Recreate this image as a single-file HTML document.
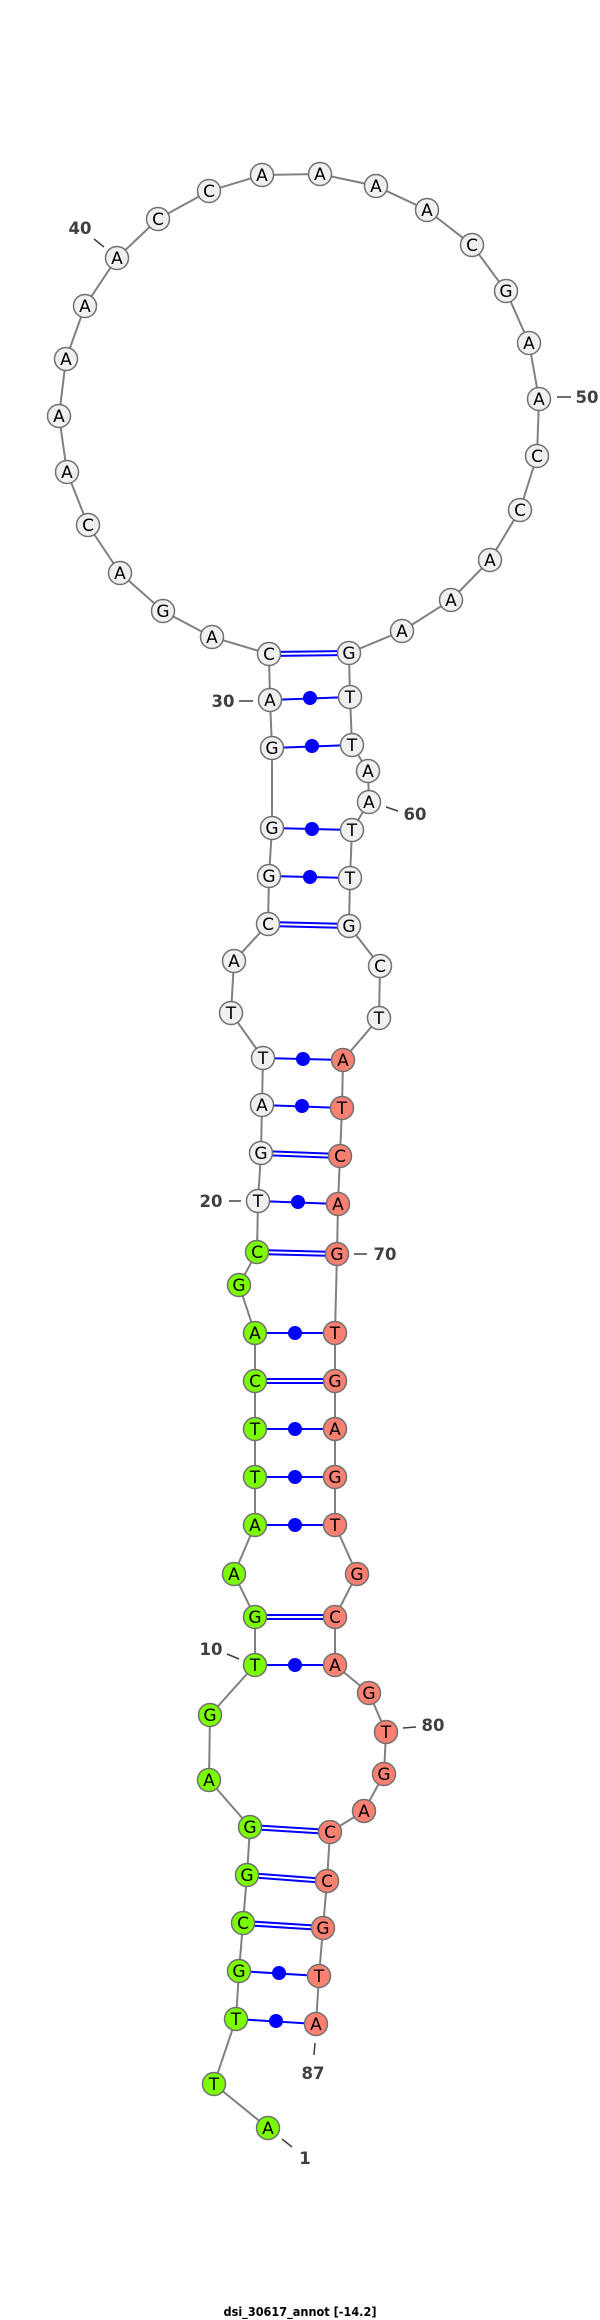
<!DOCTYPE html>
<html><head><meta charset="utf-8"><style>html,body{margin:0;padding:0;background:#fff}svg{display:block}</style></head>
<body>
<svg width="600" height="2320" viewBox="0 0 600 2320" xmlns="http://www.w3.org/2000/svg">
<polyline fill="none" stroke="#808080" stroke-width="2" points="268,2128 214,2084 236,2019 239,1971 243,1923 247,1875 250,1827 209,1780 210,1715 255,1665 255,1617 234,1574 255,1525 255,1477 255,1429 255,1381 255,1333 239,1285 257,1252 258,1201 261,1153 262,1105 263,1058 231,1013 234,961 268,924 269,876 272,828 272,748 270,700 269,654 212,637 163,611 120,573 88,525 67,472 59,416 66,359 85,306 117,258 158,219 209,191 262,175 320,174 376,186 427,210 472,245 506,291 529,343 539,399 537,456 520,510 490,560 451,600 402,631 349,653 350,697 352,745 368,771 369,802 352,830 350,878 349,926 380,966 379,1018 343,1060 342,1108 340,1156 338,1204 337,1254 335,1333 335,1381 335,1429 335,1477 335,1525 357,1574 335,1617 335,1665 369,1693 386,1732 384,1774 364,1811 330,1832 327,1881 323,1928 319,1976 316,2024"/>
<g stroke="#0000ff" stroke-width="2">
<line x1="269" y1="652" x2="349" y2="651"/><line x1="269" y1="656" x2="349" y2="655"/>
<line x1="268" y1="922" x2="349" y2="924"/><line x1="268" y1="926" x2="349" y2="928"/>
<line x1="261" y1="1151" x2="340" y2="1154"/><line x1="261" y1="1155" x2="340" y2="1158"/>
<line x1="257" y1="1250" x2="337" y2="1252"/><line x1="257" y1="1254" x2="337" y2="1256"/>
<line x1="255" y1="1379" x2="335" y2="1379"/><line x1="255" y1="1383" x2="335" y2="1383"/>
<line x1="255" y1="1615" x2="335" y2="1615"/><line x1="255" y1="1619" x2="335" y2="1619"/>
<line x1="250" y1="1825" x2="330" y2="1830"/><line x1="250" y1="1829" x2="330" y2="1834"/>
<line x1="247" y1="1873" x2="327" y2="1879"/><line x1="247" y1="1877" x2="327" y2="1883"/>
<line x1="243" y1="1921" x2="323" y2="1926"/><line x1="243" y1="1925" x2="323" y2="1930"/>
<line x1="270" y1="700" x2="350" y2="697"/>
<line x1="272" y1="748" x2="352" y2="745"/>
<line x1="272" y1="828" x2="352" y2="830"/>
<line x1="269" y1="876" x2="350" y2="878"/>
<line x1="263" y1="1058" x2="343" y2="1060"/>
<line x1="262" y1="1105" x2="342" y2="1108"/>
<line x1="258" y1="1201" x2="338" y2="1204"/>
<line x1="255" y1="1333" x2="335" y2="1333"/>
<line x1="255" y1="1429" x2="335" y2="1429"/>
<line x1="255" y1="1477" x2="335" y2="1477"/>
<line x1="255" y1="1525" x2="335" y2="1525"/>
<line x1="255" y1="1665" x2="335" y2="1665"/>
<line x1="239" y1="1971" x2="319" y2="1976"/>
<line x1="236" y1="2019" x2="316" y2="2024"/>
</g>
<g fill="#0000ff">
<circle cx="310" cy="698" r="7"/><circle cx="312" cy="746" r="7"/><circle cx="312" cy="829" r="7"/><circle cx="310" cy="877" r="7"/>
<circle cx="303" cy="1059" r="7"/><circle cx="302" cy="1106" r="7"/><circle cx="298" cy="1202" r="7"/><circle cx="295" cy="1333" r="7"/>
<circle cx="295" cy="1429" r="7"/><circle cx="295" cy="1477" r="7"/><circle cx="295" cy="1525" r="7"/><circle cx="295" cy="1665" r="7"/>
<circle cx="279" cy="1973" r="7"/><circle cx="276" cy="2021" r="7"/>
</g>
<g stroke="#707070" stroke-width="1.5">
<g fill="#7cfc00">
<circle cx="268" cy="2128" r="11.5"/><circle cx="214" cy="2084" r="11.5"/><circle cx="236" cy="2019" r="11.5"/><circle cx="239" cy="1971" r="11.5"/><circle cx="243" cy="1923" r="11.5"/><circle cx="247" cy="1875" r="11.5"/><circle cx="250" cy="1827" r="11.5"/><circle cx="209" cy="1780" r="11.5"/><circle cx="210" cy="1715" r="11.5"/><circle cx="255" cy="1665" r="11.5"/><circle cx="255" cy="1617" r="11.5"/><circle cx="234" cy="1574" r="11.5"/><circle cx="255" cy="1525" r="11.5"/><circle cx="255" cy="1477" r="11.5"/><circle cx="255" cy="1429" r="11.5"/><circle cx="255" cy="1381" r="11.5"/><circle cx="255" cy="1333" r="11.5"/><circle cx="239" cy="1285" r="11.5"/><circle cx="257" cy="1252" r="11.5"/>
</g>
<g fill="#f0f0f0">
<circle cx="258" cy="1201" r="11.5"/><circle cx="261" cy="1153" r="11.5"/><circle cx="262" cy="1105" r="11.5"/><circle cx="263" cy="1058" r="11.5"/><circle cx="231" cy="1013" r="11.5"/><circle cx="234" cy="961" r="11.5"/><circle cx="268" cy="924" r="11.5"/><circle cx="269" cy="876" r="11.5"/><circle cx="272" cy="828" r="11.5"/><circle cx="272" cy="748" r="11.5"/><circle cx="270" cy="700" r="11.5"/><circle cx="269" cy="654" r="11.5"/><circle cx="212" cy="637" r="11.5"/><circle cx="163" cy="611" r="11.5"/><circle cx="120" cy="573" r="11.5"/><circle cx="88" cy="525" r="11.5"/><circle cx="67" cy="472" r="11.5"/><circle cx="59" cy="416" r="11.5"/><circle cx="66" cy="359" r="11.5"/><circle cx="85" cy="306" r="11.5"/><circle cx="117" cy="258" r="11.5"/><circle cx="158" cy="219" r="11.5"/><circle cx="209" cy="191" r="11.5"/><circle cx="262" cy="175" r="11.5"/><circle cx="320" cy="174" r="11.5"/><circle cx="376" cy="186" r="11.5"/><circle cx="427" cy="210" r="11.5"/><circle cx="472" cy="245" r="11.5"/><circle cx="506" cy="291" r="11.5"/><circle cx="529" cy="343" r="11.5"/><circle cx="539" cy="399" r="11.5"/><circle cx="537" cy="456" r="11.5"/><circle cx="520" cy="510" r="11.5"/><circle cx="490" cy="560" r="11.5"/><circle cx="451" cy="600" r="11.5"/><circle cx="402" cy="631" r="11.5"/><circle cx="349" cy="653" r="11.5"/><circle cx="350" cy="697" r="11.5"/><circle cx="352" cy="745" r="11.5"/><circle cx="368" cy="771" r="11.5"/><circle cx="369" cy="802" r="11.5"/><circle cx="352" cy="830" r="11.5"/><circle cx="350" cy="878" r="11.5"/><circle cx="349" cy="926" r="11.5"/><circle cx="380" cy="966" r="11.5"/><circle cx="379" cy="1018" r="11.5"/>
</g>
<g fill="#fa8072">
<circle cx="343" cy="1060" r="11.5"/><circle cx="342" cy="1108" r="11.5"/><circle cx="340" cy="1156" r="11.5"/><circle cx="338" cy="1204" r="11.5"/><circle cx="337" cy="1254" r="11.5"/><circle cx="335" cy="1333" r="11.5"/><circle cx="335" cy="1381" r="11.5"/><circle cx="335" cy="1429" r="11.5"/><circle cx="335" cy="1477" r="11.5"/><circle cx="335" cy="1525" r="11.5"/><circle cx="357" cy="1574" r="11.5"/><circle cx="335" cy="1617" r="11.5"/><circle cx="335" cy="1665" r="11.5"/><circle cx="369" cy="1693" r="11.5"/><circle cx="386" cy="1732" r="11.5"/><circle cx="384" cy="1774" r="11.5"/><circle cx="364" cy="1811" r="11.5"/><circle cx="330" cy="1832" r="11.5"/><circle cx="327" cy="1881" r="11.5"/><circle cx="323" cy="1928" r="11.5"/><circle cx="319" cy="1976" r="11.5"/><circle cx="316" cy="2024" r="11.5"/>
</g>
</g>
<g font-family="DejaVu Sans, sans-serif" font-size="17" text-anchor="middle" fill="#000">
<text x="268" y="2134">A</text><text x="214" y="2090">T</text><text x="236" y="2025">T</text><text x="239" y="1977">G</text><text x="243" y="1929">C</text><text x="247" y="1881">G</text><text x="250" y="1833">G</text><text x="209" y="1786">A</text><text x="210" y="1721">G</text><text x="255" y="1671">T</text><text x="255" y="1623">G</text><text x="234" y="1580">A</text><text x="255" y="1531">A</text><text x="255" y="1483">T</text><text x="255" y="1435">T</text><text x="255" y="1387">C</text><text x="255" y="1339">A</text><text x="239" y="1291">G</text><text x="257" y="1258">C</text>
<text x="258" y="1207">T</text><text x="261" y="1159">G</text><text x="262" y="1111">A</text><text x="263" y="1064">T</text><text x="231" y="1019">T</text><text x="234" y="967">A</text><text x="268" y="930">C</text><text x="269" y="882">G</text><text x="272" y="834">G</text><text x="272" y="754">G</text><text x="270" y="706">A</text><text x="269" y="660">C</text><text x="212" y="643">A</text><text x="163" y="617">G</text><text x="120" y="579">A</text><text x="88" y="531">C</text><text x="67" y="478">A</text><text x="59" y="422">A</text><text x="66" y="365">A</text><text x="85" y="312">A</text><text x="117" y="264">A</text><text x="158" y="225">C</text><text x="209" y="197">C</text><text x="262" y="181">A</text><text x="320" y="180">A</text><text x="376" y="192">A</text><text x="427" y="216">A</text><text x="472" y="251">C</text><text x="506" y="297">G</text><text x="529" y="349">A</text><text x="539" y="405">A</text><text x="537" y="462">C</text><text x="520" y="516">C</text><text x="490" y="566">A</text><text x="451" y="606">A</text><text x="402" y="637">A</text><text x="349" y="659">G</text><text x="350" y="703">T</text><text x="352" y="751">T</text><text x="368" y="777">A</text><text x="369" y="808">A</text><text x="352" y="836">T</text><text x="350" y="884">T</text><text x="349" y="932">G</text><text x="380" y="972">C</text><text x="379" y="1024">T</text>
<text x="343" y="1066">A</text><text x="342" y="1114">T</text><text x="340" y="1162">C</text><text x="338" y="1210">A</text><text x="337" y="1260">G</text><text x="335" y="1339">T</text><text x="335" y="1387">G</text><text x="335" y="1435">A</text><text x="335" y="1483">G</text><text x="335" y="1531">T</text><text x="357" y="1580">G</text><text x="335" y="1623">C</text><text x="335" y="1671">A</text><text x="369" y="1699">G</text><text x="386" y="1738">T</text><text x="384" y="1780">G</text><text x="364" y="1817">A</text><text x="330" y="1838">C</text><text x="327" y="1887">C</text><text x="323" y="1934">G</text><text x="319" y="1982">T</text><text x="316" y="2030">A</text>
</g>
<g stroke="#404040" stroke-width="1.5">
<line x1="94" y1="239" x2="104" y2="247"/>
<line x1="557" y1="397" x2="571" y2="397"/>
<line x1="239" y1="701" x2="253" y2="701"/>
<line x1="386" y1="807" x2="398" y2="811"/>
<line x1="229" y1="1201" x2="241" y2="1201"/>
<line x1="354" y1="1254" x2="367" y2="1254"/>
<line x1="227" y1="1654" x2="239" y2="1659"/>
<line x1="403" y1="1728" x2="416" y2="1727"/>
<line x1="315" y1="2043" x2="314" y2="2055"/>
<line x1="282" y1="2139" x2="292" y2="2147"/>
</g>
<g font-family="DejaVu Sans, sans-serif" font-size="16.5" font-weight="bold" fill="#404040" text-anchor="middle">
<text x="80" y="234">40</text>
<text x="587" y="403">50</text>
<text x="223" y="707">30</text>
<text x="415" y="820">60</text>
<text x="211" y="1207">20</text>
<text x="385" y="1260">70</text>
<text x="211" y="1655">10</text>
<text x="433" y="1731">80</text>
<text x="313" y="2079">87</text>
<text x="305" y="2164">1</text>
</g>
<text x="300" y="2316" font-family="DejaVu Sans, sans-serif" font-size="12" font-weight="bold" text-anchor="middle" textLength="153" lengthAdjust="spacingAndGlyphs" fill="#000">dsi_30617_annot [-14.2]</text>
</svg>
</body></html>
